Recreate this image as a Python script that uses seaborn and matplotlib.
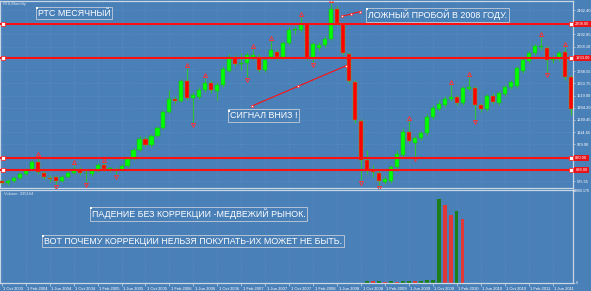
import numpy as np
import pandas as pd
import matplotlib
matplotlib.use("Agg")
import matplotlib.pyplot as plt
import matplotlib.transforms as mtransforms
import seaborn as sns

# ---------------- data (RTS monthly, Oct 2003 .. Sep 2011) ----------------
months = pd.date_range("2003-10-01", periods=96, freq="MS")

opens = [577, 554, 577, 610, 654, 698, 786, 665, 612, 621, 577, 621, 665, 709, 662, 654,
         687, 753, 709, 712, 698, 742, 819, 918, 1040, 974, 1073, 1161, 1338, 1481, 1459, 1680,
         1492, 1503, 1580, 1658, 1569, 1635, 1790, 1933, 1867, 1878, 1944, 1944, 1801, 1944, 1999, 1944,
         2099, 2242, 2242, 2308, 1933, 2044, 2077, 2143, 2474, 2308, 1977, 1669, 1238, 808, 698, 665,
         566, 577, 731, 863, 1117, 996, 1051, 1106, 1282, 1371, 1415, 1481, 1503, 1437, 1591, 1602,
         1415, 1371, 1514, 1437, 1536, 1613, 1624, 1790, 1900, 1988, 2055, 2044, 1911, 1933, 1999, 1724]
highs = [588, 599, 632, 676, 720, 808, 841, 687, 643, 643, 643, 687, 753, 731, 698, 709,
         775, 775, 731, 731, 764, 841, 941, 1073, 1073, 1095, 1183, 1360, 1580, 1514, 1702, 1823,
         1558, 1613, 1713, 1691, 1669, 1845, 1977, 1966, 1988, 1999, 2033, 1977, 1944, 2121, 2033, 2121,
         2275, 2286, 2385, 2330, 2110, 2110, 2176, 2540, 2507, 2330, 1999, 1691, 1260, 918, 753, 698,
         632, 753, 918, 1161, 1238, 1073, 1128, 1316, 1415, 1470, 1514, 1635, 1525, 1624, 1724, 1624,
         1437, 1536, 1547, 1569, 1635, 1691, 1845, 1933, 2010, 2088, 2165, 2066, 1966, 2010, 2055, 1746]
lows = [543, 532, 566, 599, 643, 687, 654, 599, 566, 543, 566, 610, 654, 643, 566, 632,
        676, 687, 676, 654, 687, 731, 808, 907, 952, 952, 1062, 1150, 1327, 1426, 1448, 1470,
        1227, 1481, 1558, 1547, 1470, 1613, 1779, 1845, 1801, 1724, 1911, 1779, 1779, 1922, 1911, 1922,
        2077, 2198, 2220, 1911, 1889, 2010, 2055, 2132, 2297, 1966, 1658, 1216, 588, 654, 621, 532,
        543, 554, 709, 841, 996, 852, 1029, 1084, 1260, 1349, 1393, 1459, 1415, 1415, 1569, 1260,
        1338, 1349, 1426, 1415, 1514, 1591, 1602, 1768, 1878, 1966, 2021, 1779, 1878, 1900, 1691, 1305]
closes = [554, 577, 610, 654, 698, 786, 676, 621, 608, 577, 621, 665, 709, 665, 668, 687,
          753, 709, 712, 700, 742, 819, 918, 1040, 974, 1073, 1161, 1338, 1481, 1459, 1680, 1492,
          1525, 1580, 1658, 1580, 1635, 1812, 1944, 1867, 1870, 1966, 1966, 1801, 1911, 2021, 1944, 2099,
          2242, 2246, 2308, 1933, 2088, 2077, 2143, 2474, 2319, 1988, 1680, 1249, 808, 698, 676, 577,
          599, 731, 874, 1117, 1018, 1051, 1106, 1282, 1382, 1426, 1481, 1503, 1437, 1602, 1613, 1415,
          1371, 1514, 1448, 1547, 1613, 1669, 1823, 1911, 1988, 2066, 2066, 1911, 1933, 1988, 1724, 1371]

volume = [0] * 61 + [1000, 950, 1050, 800, 900, 850, 950, 1300, 1000, 1200, 1500, 2000,
                     49500, 45900, 40000, 42400, 37700] + [0] * 18
volume_dir = ["up"] * 61 + ["up", "down", "up", "down", "up", "down", "up", "up", "down", "up", "up", "up",
                            "up", "down", "down", "up", "down"] + ["up"] * 18

up_fractals = [6, 12, 17, 31, 34, 42, 45, 50, 55, 68, 75, 78, 90, 94]
down_fractals = [9, 14, 19, 32, 41, 52, 60, 63, 69, 79, 91]

level_lines = [2308, 1933, 830, 698]

price_ticks = [2462.40, 2327.65, 2192.85, 2058.10, 1923.30, 1788.55, 1653.75, 1519.00,
               1384.20, 1249.45, 1114.65, 979.90, 845.10, 710.35, 575.55]
volume_top = 54800.17

signal_line = ([41.8, 49.5, 57.5], [1404, 1624, 1848])
false_break_line = ([56.8, 58.3, 59.8], [2393, 2415, 2444])

notes = [
    ("РТС МЕСЯЧНЫЙ", 38, 8.5),
    ("ЛОЖНЫЙ ПРОБОЙ В 2008 ГОДУ.", 368, 9.5),
    ("СИГНАЛ ВНИЗ !", 230, 111),
    ("ПАДЕНИЕ БЕЗ КОРРЕКЦИИ -МЕДВЕЖИЙ РЫНОК.", 92, 208.5),
    ("ВОТ ПОЧЕМУ КОРРЕКЦИИ НЕЛЬЗЯ ПОКУПАТЬ-ИХ МОЖЕТ НЕ БЫТЬ.", 44, 236.5),
]

# ---------------- style ----------------
sns.set_theme(style="dark")
plt.rcParams["font.family"] = ["Liberation Sans", "DejaVu Sans"]
BG = "#4a80b8"
GRID = "#6393c6"
SPINE = "#c9d6e4"
TXT = "#ffffff"
BULL = "#00ff00"
BEAR = "#ff0000"
WICK = "#33c233"
LINE_RED = "#ff1010"

W, H = 591, 291
fig = plt.figure(figsize=(W / 100, H / 100), dpi=100)
fig.patch.set_facecolor(BG)

ax = fig.add_axes([0 / W, (H - 188) / H, 573 / W, 187 / H])
axv = fig.add_axes([0 / W, (H - 283) / H, 573 / W, 93 / H])

n = len(opens)
idx = np.arange(n)
o = np.array(opens, float)
h = np.array(highs, float)
l = np.array(lows, float)
c = np.array(closes, float)

for a in (ax, axv):
    a.set_facecolor(BG)
    for s in a.spines.values():
        s.set_color(SPINE)
        s.set_linewidth(0.9)
        s.set_visible(True)
    a.grid(True, color=GRID, lw=0.5, ls=(0, (1, 2)))
    a.set_axisbelow(True)

# candles
ax.vlines(idx, l, h, color=WICK, lw=0.8, zorder=2)
up = c >= o
body = np.where(np.abs(c - o) < 8, 8 * np.sign(c - o + 0.001), c - o)
ax.bar(idx[up], body[up], bottom=o[up], width=0.68, color=BULL, edgecolor="#1fa51f",
       linewidth=0.35, zorder=3)
ax.bar(idx[~up], body[~up], bottom=o[~up], width=0.68, color=BEAR, edgecolor="#8a9a20",
       linewidth=0.35, zorder=3)

# fractals
uf = np.array(up_fractals)
df = np.array(down_fractals)
ax.plot(uf, h[uf] + 30, ls="none", marker="^", ms=2.9, mfc="none", mec="#ff3030", mew=0.65, zorder=4)
ax.plot(df, l[df] - 30, ls="none", marker="v", ms=2.9, mfc="none", mec="#ff3030", mew=0.65, zorder=4)

ax.set_xlim(-0.3, 95.4)
ax.set_ylim(499.4, 2562)

# horizontal level lines with handles
tr = mtransforms.blended_transform_factory(ax.transAxes, ax.transData)
for lv in level_lines:
    ax.axhline(lv, color=LINE_RED, lw=1.5, zorder=5)
    ax.plot([0.15, 95.0], [lv, lv], ls="none", marker="s", ms=2.2, mfc="white", mec=LINE_RED,
            mew=0.5, zorder=6)
    ax.text(1.004, lv, f"{lv:.2f}", transform=tr, fontsize=2.9, color="white", va="center",
            ha="left", bbox=dict(boxstyle="square,pad=0.3", fc="#e8141a", ec="none"),
            clip_on=False, zorder=7)

# trend lines
for xs, ys in (signal_line, false_break_line):
    ax.plot([xs[0], xs[-1]], [ys[0], ys[-1]], color=LINE_RED, lw=0.8, zorder=5)
    ax.plot(xs, ys, ls="none", marker="s", ms=1.8, mfc="white", mec=LINE_RED, mew=0.4, zorder=6)

# price axis (labels hidden behind the red level boxes are left blank)
ax.yaxis.tick_right()
ax.set_yticks(price_ticks)
ax.set_yticklabels(["" if min(abs(v - lv) for lv in level_lines) < 40 else f"{v:.2f}"
                    for v in price_ticks])
ax.tick_params(axis="y", colors=SPINE, labelcolor=TXT, labelsize=2.9, length=1.5, width=0.5, pad=1.2,
               right=True, left=False)
tick_pos = list(range(0, n, 4))
ax.set_xticks(tick_pos)
ax.tick_params(axis="x", labelbottom=False, length=0)

# volume
vol_df = pd.DataFrame({"m": idx, "v": volume, "dir": volume_dir})
sns.barplot(data=vol_df, x="m", y="v", hue="dir", palette={"up": "#0a8f0a", "down": "#ff1a1a"},
            native_scale=True, dodge=False, width=0.55, linewidth=0, legend=False, ax=axv)
axv.set_xlim(-0.3, 95.4)
axv.set_ylim(0, volume_top)
axv.set_xlabel("")
axv.set_ylabel("")
axv.yaxis.tick_right()
axv.set_yticks([0, volume_top])
axv.set_yticklabels(["0", ""])
axv.tick_params(axis="y", colors=SPINE, labelcolor=TXT, labelsize=2.6, length=1.2, width=0.5, pad=0.8,
                right=True, left=False)
fig.text(590 / W, 1 - 188.5 / H, f"{volume_top:.3f}", fontsize=2.6, color=TXT, va="top", ha="right")
axv.set_xticks(tick_pos)
axv.set_xticklabels([f"1 {months[i].strftime('%b %Y')}" for i in tick_pos])
axv.tick_params(axis="x", colors=SPINE, labelcolor=TXT, labelsize=3.0, length=2.5, width=0.5,
                pad=0.5, bottom=True, direction="out")
offset = mtransforms.ScaledTranslation(1.5 / 100, 0, fig.dpi_scale_trans)
for lbl in axv.get_xticklabels():
    lbl.set_horizontalalignment("left")
    lbl.set_transform(lbl.get_transform() + offset)

# small captions
fig.text(3 / W, 1 - 1.5 / H, "RTS,Monthly", fontsize=3.0, color="#dfe8f2", va="top", ha="left")
fig.text(4 / W, 1 - 192 / H, "Volume: 335164", fontsize=3.0, color="#dfe8f2", va="top", ha="left")

# annotations
for text, px, py in notes:
    fig.text(px / W, 1 - py / H, text, fontsize=6.4, color="white", va="top", ha="left",
             bbox=dict(boxstyle="square,pad=0.18", fc="none", ec="#c4ccd6", lw=0.6))
    fig.patches.append(plt.Rectangle(((px - 2) / W, 1 - (py - 1) / H - 1.5 / H), 1.6 / W, 1.6 / H,
                                     transform=fig.transFigure, fc="white", ec="none", zorder=10))

fig.savefig("out.png", dpi=100, facecolor=BG)
